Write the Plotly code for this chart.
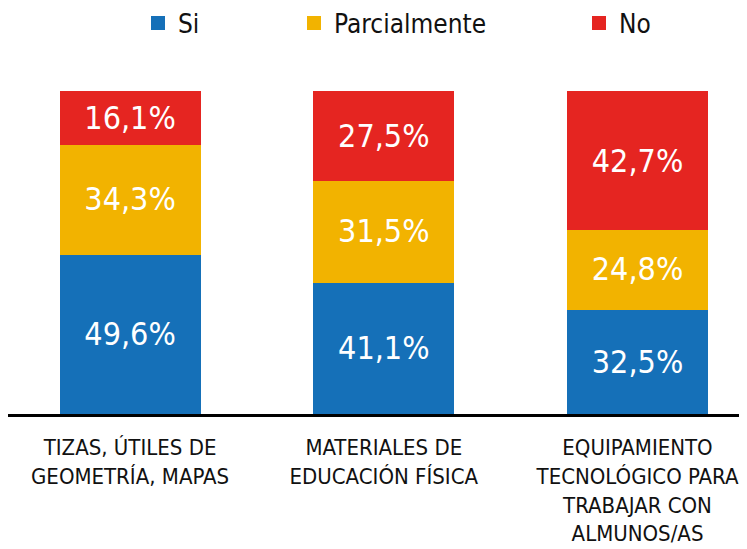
import plotly.graph_objects as go

categories = ["TIZAS, ÚTILES DE<br>GEOMETRÍA, MAPAS",
              "MATERIALES DE<br>EDUCACIÓN FÍSICA",
              "EQUIPAMIENTO<br>TECNOLÓGICO PARA<br>TRABAJAR CON<br>ALMUNOS/AS"]
series_names = ["Si", "Parcialmente", "No"]
si = [49.6, 41.1, 32.5]
parcialmente = [34.3, 31.5, 24.8]
no = [16.1, 27.5, 42.7]
colors = ["#1570b8", "#f2b300", "#e52521"]

FONT = "DejaVu Sans Condensed, Liberation Sans Narrow, sans-serif"
xpos = [0, 1, 2]

def fmt(v):
    return f"{v:.1f}".replace(".", ",") + "%"

fig = go.Figure()
legend_ids = ["legend", "legend2", "legend3"]
for name, vals, col, lg in zip(series_names, [si, parcialmente, no], colors, legend_ids):
    fig.add_trace(go.Bar(
        x=xpos, y=vals, name=name, legend=lg,
        marker=dict(color=col, line=dict(color=col, width=2)),
        width=0.548,
        text=[fmt(v) for v in vals],
        textposition="inside", insidetextanchor="middle",
        textfont=dict(family=FONT, size=32, color="white"),
        constraintext="none",
        hoverinfo="skip",
    ))

leg_common = dict(orientation="h", xref="container", yref="container",
                  yanchor="middle", xanchor="left", bgcolor="rgba(0,0,0,0)",
                  font=dict(family=FONT, size=26, color="#111111"))
leg_x = [130, 286, 571]
layout_legends = {}
for lg, lx in zip(legend_ids, leg_x):
    layout_legends[lg] = dict(leg_common, x=lx / 747, y=1 - 15 / 549)

fig.update_layout(
    width=747, height=549,
    barmode="stack",
    margin=dict(l=0, r=0, t=72, b=143, autoexpand=False),
    plot_bgcolor="white", paper_bgcolor="white",
    showlegend=True,
    **layout_legends,
    xaxis=dict(range=[-0.481, 2.463], tickvals=xpos, ticktext=categories,
               showline=True, linecolor="black", linewidth=3,
               showgrid=False, zeroline=False, ticks="", automargin=False,
               ticklabelstandoff=12,
               tickfont=dict(family=FONT, size=22, color="#111111")),
    yaxis=dict(range=[0, 100 * 334 / 322], visible=False, showgrid=False),
)

fig.write_html("out.html")
